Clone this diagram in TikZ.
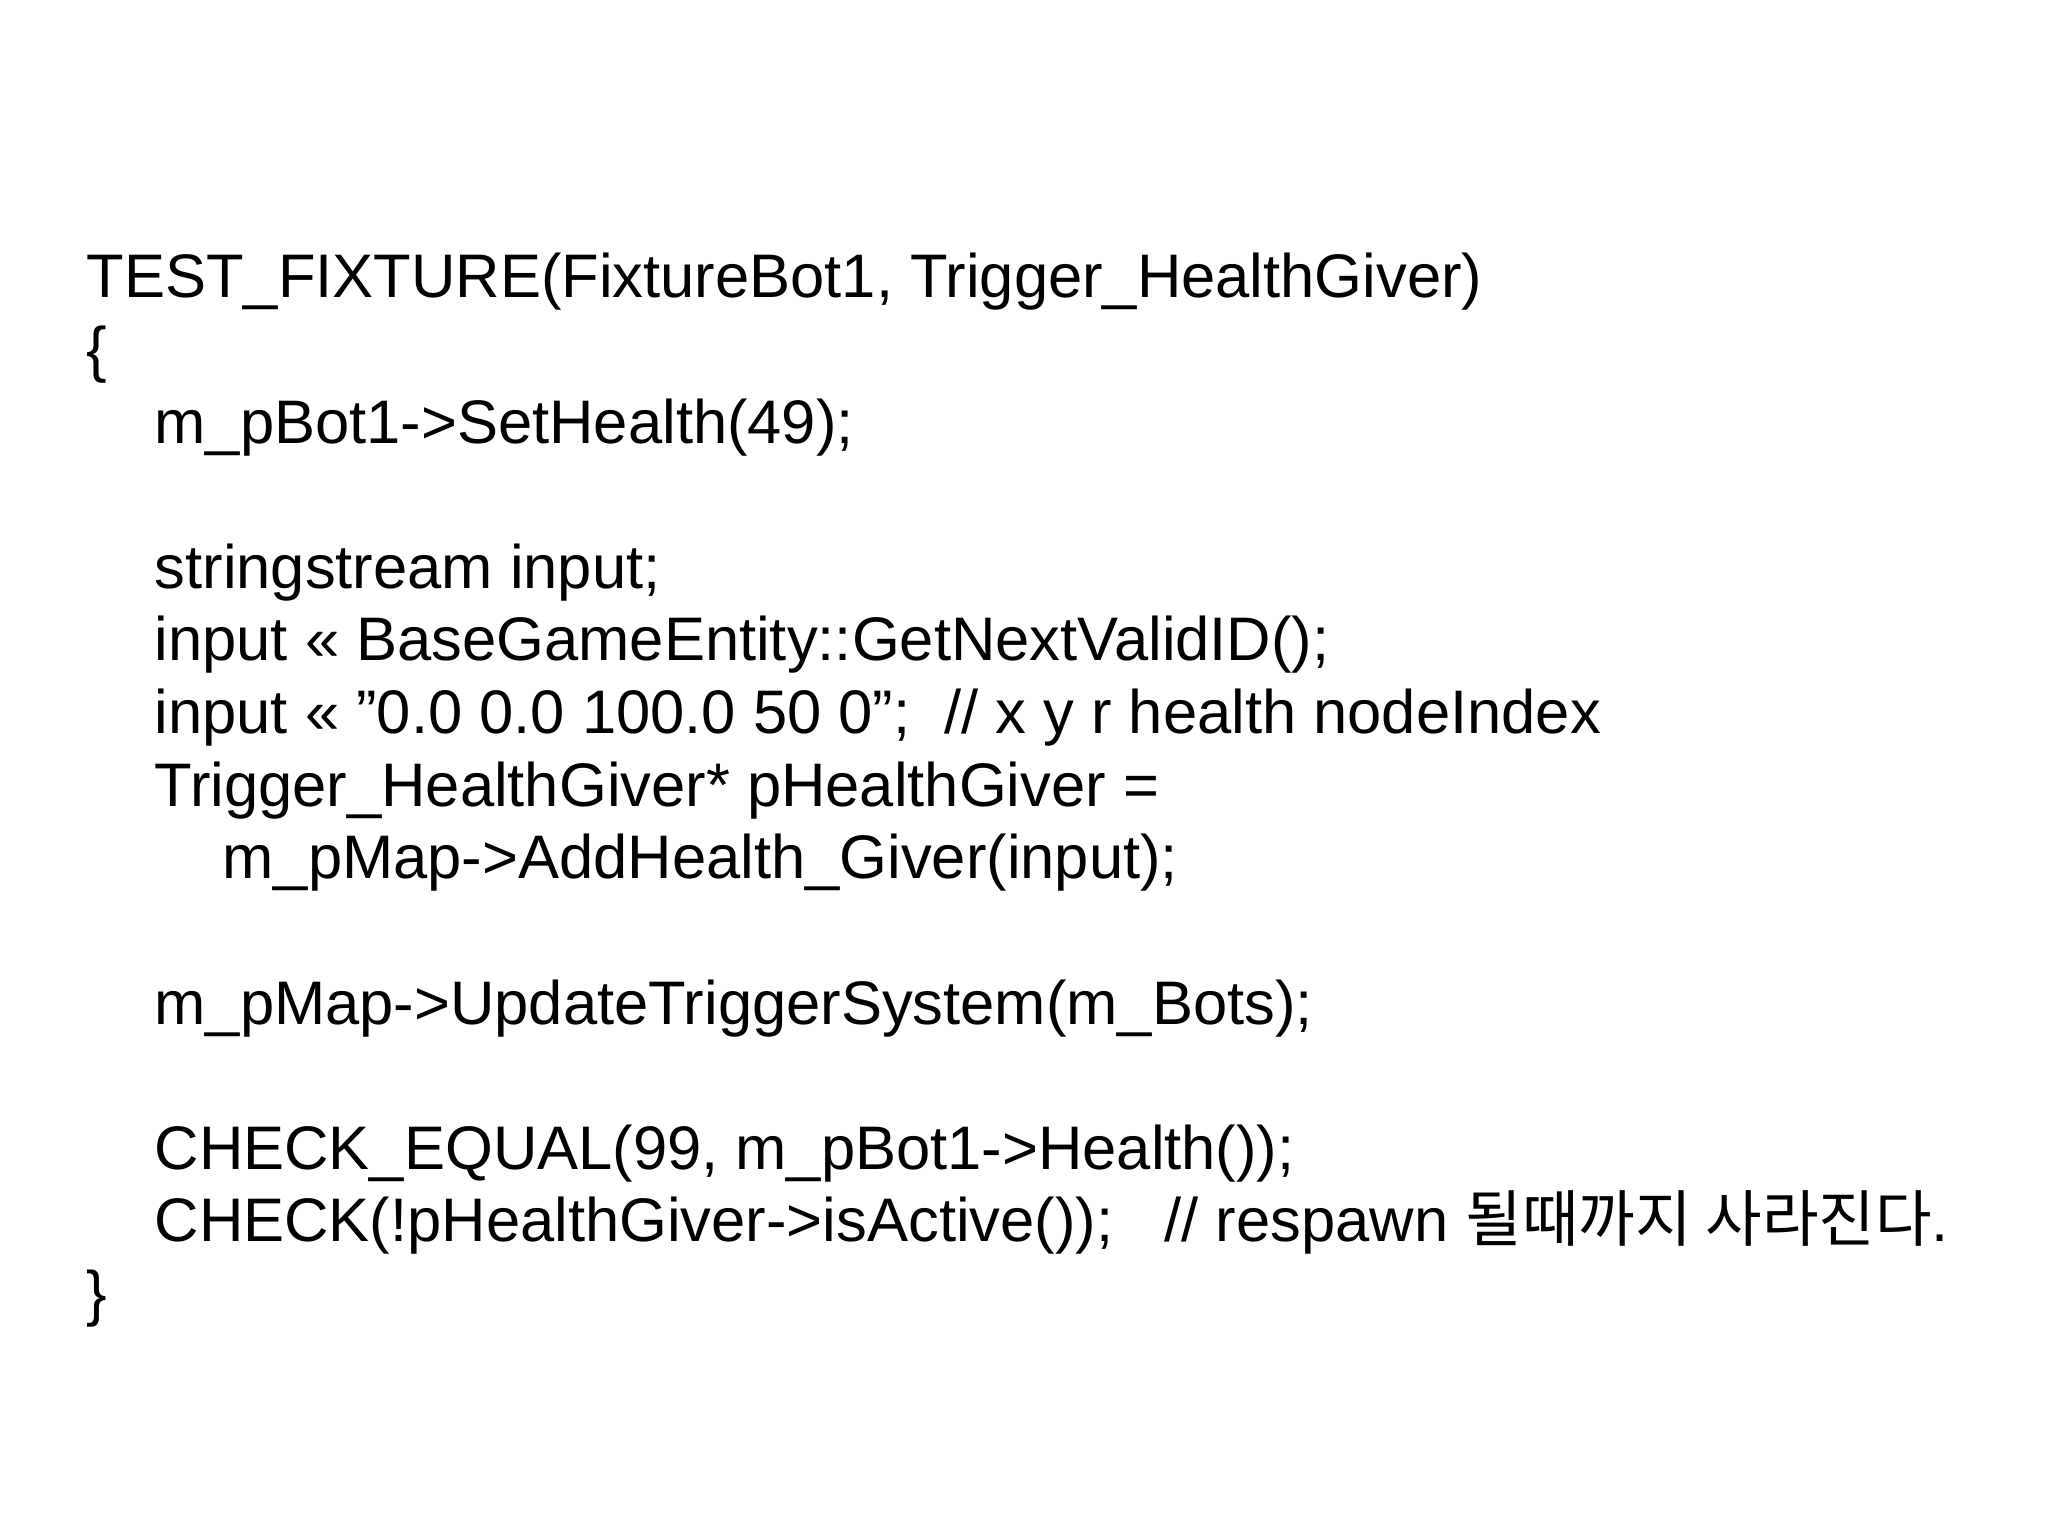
\documentclass[tikz,border=0pt]{standalone}
\usepackage{fontspec}
\setmainfont{Liberation Sans}
\newfontfamily\cjk{Noto Sans CJK KR}
\begin{document}
\begin{tikzpicture}[code/.style={anchor=base west,inner sep=0pt,font=\fontsize{17.5}{20}\selectfont}]
\useasboundingbox (0,0) rectangle (20.48,-15.36);
\def\b{2.98}\def\s{0.726}
\node[code] (l0) at (0.86,{-\b}) {TEST\_FIXTURE(FixtureBot1, Trigger\_HealthGiver)};
\node[code] (l1) at (0.86,{-\b-1*\s}) {\{};
\node[code] (l2) at (1.54,{-\b-2*\s}) {m\_pBot1->SetHealth(49);};
\node[code] (l4) at (1.54,{-\b-4*\s}) {stringstream input;};
\node[code] (l5) at (1.54,{-\b-5*\s}) {input << BaseGameEntity::GetNextValidID();};
\node[code] (l6) at (1.54,{-\b-6*\s}) {input << "0.0 0.0 100.0 50 0";\ \ // x y r health nodeIndex};
\node[code] (l7) at (1.54,{-\b-7*\s}) {Trigger\_HealthGiver* pHealthGiver =};
\node[code] (l8) at (2.22,{-\b-8*\s}) {m\_pMap->AddHealth\_Giver(input);};
\node[code] (l10) at (1.54,{-\b-10*\s}) {m\_pMap->UpdateTriggerSystem(m\_Bots);};
\node[code] (l12) at (1.54,{-\b-12*\s}) {CHECK\_EQUAL(99, m\_pBot1->Health());};
\node[code] (l13) at (1.54,{-\b-13*\s}) {CHECK(!pHealthGiver->isActive());\ \ \ // respawn {\cjk 될때까지 사라진다}.};
\node[code] (l14) at (0.86,{-\b-14*\s}) {\}};
\end{tikzpicture}
\end{document}
